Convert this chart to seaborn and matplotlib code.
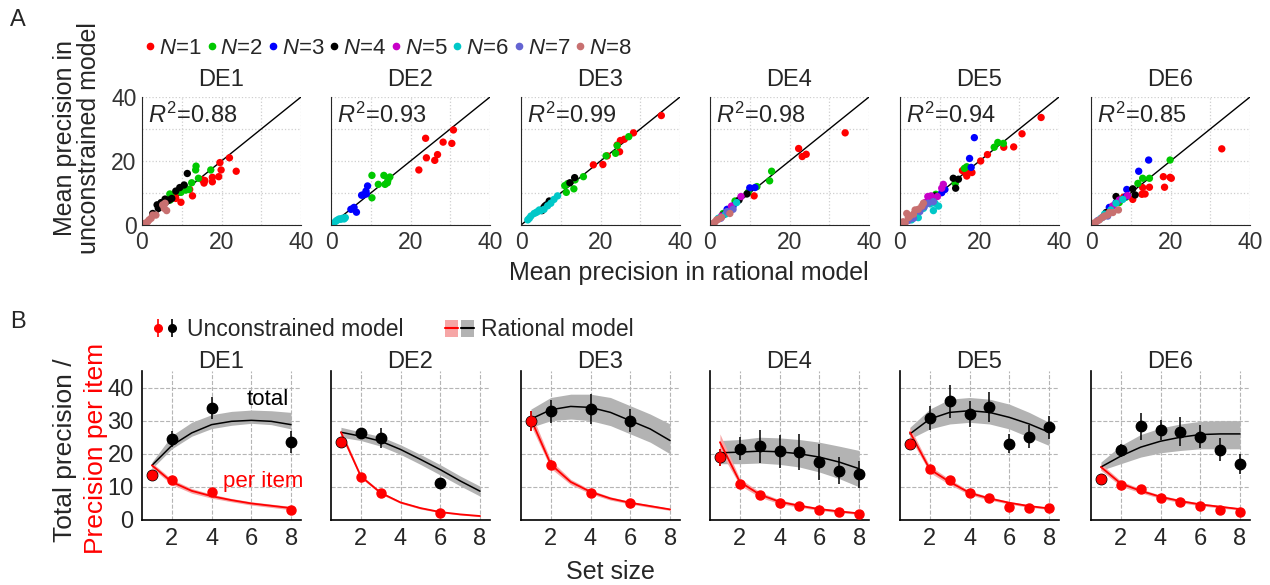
import numpy as np
import pandas as pd
import matplotlib
matplotlib.use("Agg")
import matplotlib.pyplot as plt
import seaborn as sns
from matplotlib.lines import Line2D
from matplotlib.patches import Patch
from matplotlib.legend_handler import HandlerTuple

# ---------------- data ----------------
experiments = ["DE1", "DE2", "DE3", "DE4", "DE5", "DE6"]
r2_values = [0.88, 0.93, 0.99, 0.98, 0.94, 0.85]

# panel A: (set size N, mean precision rational, mean precision unconstrained)
de1_pts = [(1, 22.0, 21.0), (1, 19.6, 19.5), (1, 19.9, 17.2), (1, 23.7, 16.8), (1, 19.3, 15.1),
           (1, 17.7, 14.9), (1, 17.7, 13.5), (1, 15.8, 13.9), (1, 15.2, 14.1), (1, 15.6, 13.1),
           (1, 12.0, 11.1), (1, 12.7, 9.1), (1, 9.8, 7.1), (1, 8.3, 9.1), (1, 8.5, 8.3),
           (2, 13.6, 18.4), (2, 13.5, 17.2), (2, 17.3, 17.2), (2, 14.2, 14.6), (2, 12.5, 13.2),
           (2, 11.8, 11.1), (2, 11.0, 10.9), (2, 9.8, 10.2), (2, 7.0, 9.7), (2, 7.1, 7.8),
           (2, 10.8, 11.8), (2, 7.3, 8.9),
           (4, 11.4, 16.1), (4, 10.6, 12.5), (4, 9.5, 11.7), (4, 8.5, 10.6), (4, 7.5, 8.3),
           (4, 6.8, 7.8), (4, 4.8, 7.0), (4, 4.1, 5.2), (4, 2.7, 3.6), (4, 3.8, 6.3), (4, 5.8, 8.1),
           (8, 5.8, 6.8), (8, 6.2, 4.5), (8, 5.2, 6.3), (8, 2.7, 3.1), (8, 2.3, 2.1), (8, 1.4, 1.0),
           (8, 0.6, 0.5), (8, 1.8, 1.6), (8, 3.5, 3.1), (8, 5.6, 5.2)]
de2_pts = [(1, 30.8, 29.7), (1, 30.4, 25.5), (1, 28.2, 25.9), (1, 23.8, 27.1), (1, 26.8, 22.0),
           (1, 24.0, 21.0), (1, 26.1, 20.2), (1, 22.1, 17.2),
           (2, 10.3, 15.5), (2, 13.3, 15.5), (2, 14.8, 15.0), (2, 14.3, 13.9), (2, 13.6, 12.7),
           (2, 11.9, 12.7), (2, 10.3, 8.5), (2, 14.2, 13.2),
           (3, 9.2, 12.2), (3, 8.8, 10.6), (3, 8.9, 9.7), (3, 8.1, 9.4), (3, 7.7, 9.3),
           (3, 5.8, 5.5), (3, 5.0, 4.9), (3, 6.4, 4.0), (3, 5.5, 5.1),
           (6, 1.3, 1.3), (6, 2.1, 1.9), (6, 2.9, 2.1), (6, 3.6, 2.3), (6, 1.7, 1.6),
           (6, 2.5, 1.8), (6, 3.3, 1.9), (6, 0.8, 0.7)]
de3_pts = [(1, 35.3, 34.2), (1, 28.3, 28.8), (1, 26.0, 26.8), (1, 25.0, 26.4), (1, 24.2, 25.0),
           (1, 24.8, 22.9), (1, 21.7, 21.6), (1, 20.6, 18.9), (1, 18.2, 18.8),
           (2, 27.1, 27.6), (2, 24.2, 24.8), (2, 23.8, 22.4), (2, 21.4, 21.6), (2, 15.7, 15.1),
           (2, 13.6, 14.1), (2, 11.7, 12.9), (2, 11.0, 12.3), (2, 13.3, 11.3), (2, 11.4, 10.2),
           (4, 13.5, 14.8), (4, 12.3, 13.2), (4, 7.1, 7.5), (4, 6.4, 6.3), (4, 5.7, 5.4),
           (4, 5.3, 4.5), (4, 6.0, 5.9),
           (6, 9.2, 9.1), (6, 8.3, 8.0), (6, 7.5, 6.8), (6, 6.7, 6.0), (6, 5.8, 4.9), (6, 5.0, 4.5),
           (6, 4.2, 4.2), (6, 3.3, 3.6), (6, 2.5, 2.8), (6, 2.1, 2.1), (6, 3.8, 3.9), (6, 4.6, 4.7),
           (6, 1.7, 1.6)]
de4_pts = [(1, 34.0, 28.8), (1, 22.3, 23.9), (1, 24.2, 22.1), (1, 23.2, 21.4), (1, 11.1, 9.1),
           (2, 15.5, 16.8), (2, 15.0, 13.8), (2, 11.8, 12.0), (2, 9.6, 10.2), (2, 6.3, 7.5), (2, 3.3, 3.6),
           (3, 10.0, 11.6), (3, 11.3, 11.7), (3, 4.3, 4.9), (3, 5.8, 5.9),
           (4, 9.3, 9.7), (4, 7.3, 7.8), (4, 3.3, 3.1),
           (5, 7.8, 8.9), (5, 5.4, 5.9), (5, 2.9, 2.8),
           (6, 6.7, 7.0), (6, 3.9, 3.4), (6, 2.1, 2.1),
           (7, 5.8, 4.9), (7, 4.3, 4.2), (7, 2.7, 2.1),
           (8, 5.0, 3.6), (8, 1.7, 1.6), (8, 0.8, 0.5), (8, 2.1, 1.8), (8, 1.3, 1.0), (8, 2.9, 2.4)]
de5_pts = [(1, 35.5, 33.6), (1, 30.7, 28.5), (1, 28.6, 24.4), (1, 26.1, 24.3), (1, 22.0, 22.0),
           (1, 20.3, 20.0), (1, 18.1, 16.4), (1, 16.6, 16.1), (1, 16.8, 15.3), (1, 17.4, 17.5),
           (1, 15.7, 17.0),
           (2, 24.6, 25.8), (2, 26.0, 25.5), (2, 23.7, 24.3), (2, 16.2, 17.7), (2, 16.8, 18.2),
           (2, 13.9, 13.0), (2, 9.0, 9.6),
           (3, 18.7, 27.3), (3, 17.5, 20.8), (3, 17.9, 18.0), (3, 11.3, 11.1), (3, 10.5, 10.1), (3, 7.6, 7.8),
           (4, 13.4, 14.6), (4, 14.7, 14.3), (4, 14.0, 11.5), (4, 8.8, 9.1), (4, 8.0, 8.3),
           (5, 10.9, 12.7), (5, 10.5, 11.5), (5, 9.4, 8.9), (5, 7.8, 9.1), (5, 7.3, 8.1),
           (5, 6.3, 7.0), (5, 7.0, 8.9),
           (6, 9.7, 5.9), (6, 8.4, 4.5), (6, 7.6, 6.6), (6, 5.9, 5.2), (6, 4.6, 2.3), (6, 3.8, 3.1),
           (6, 2.9, 1.6), (6, 8.8, 6.8),
           (7, 8.4, 7.3), (7, 7.1, 6.8), (7, 6.1, 5.7), (7, 5.0, 4.2), (7, 3.4, 2.1), (7, 2.1, 1.4),
           (8, 5.9, 6.8), (8, 4.6, 4.9), (8, 3.4, 3.4), (8, 2.5, 2.8), (8, 2.1, 2.3), (8, 1.7, 3.6),
           (8, 0.8, 1.0), (8, 1.3, 0.7), (8, 5.5, 5.9), (8, 3.8, 4.7)]
de6_pts = [(1, 32.9, 23.8), (1, 18.2, 15.1), (1, 19.9, 14.9), (1, 20.2, 14.6), (1, 18.5, 11.8),
           (1, 14.7, 11.8), (1, 13.0, 11.7), (1, 13.6, 9.7), (1, 12.8, 9.6), (1, 10.5, 8.0), (1, 8.2, 8.7),
           (2, 19.9, 20.3), (2, 14.7, 14.6), (2, 13.0, 14.6), (2, 11.8, 13.0), (2, 8.8, 8.7), (2, 7.1, 7.0),
           (3, 14.5, 20.3), (3, 12.0, 16.8), (3, 9.0, 11.1), (3, 8.8, 8.9), (3, 6.3, 7.0), (3, 4.6, 5.5),
           (4, 10.5, 11.3), (4, 11.1, 9.4), (4, 6.3, 8.9), (4, 3.8, 3.9),
           (5, 9.2, 9.2), (5, 7.1, 7.8), (5, 5.5, 6.0),
           (6, 8.0, 8.0), (6, 6.3, 6.8), (6, 5.0, 4.7), (6, 3.4, 3.4), (6, 2.5, 2.1),
           (7, 4.2, 2.8), (7, 2.9, 2.4), (7, 1.7, 1.4),
           (8, 6.9, 4.7), (8, 5.5, 3.9), (8, 4.2, 3.1), (8, 2.9, 2.4), (8, 2.1, 1.6), (8, 1.3, 1.0),
           (8, 0.4, 0.5), (8, 4.6, 3.9), (8, 3.4, 2.8)]
scatter_pts = [de1_pts, de2_pts, de3_pts, de4_pts, de5_pts, de6_pts]

# panel B: unconstrained model (mean +/- sem)
set_sizes = [[1, 2, 4, 8], [1, 2, 3, 6], [1, 2, 4, 6],
             [1, 2, 3, 4, 5, 6, 7, 8], [1, 2, 3, 4, 5, 6, 7, 8], [1, 2, 3, 4, 5, 6, 7, 8]]
unc_total = [[13.5, 24.4, 33.8, 23.5], [23.5, 26.2, 24.8, 11.2], [30.0, 32.8, 33.5, 30.0],
             [18.9, 21.5, 22.2, 20.7, 20.5, 17.5, 14.9, 13.8],
             [23.0, 30.8, 35.8, 32.0, 34.2, 23.1, 25.2, 28.0],
             [12.3, 21.0, 28.3, 27.3, 26.7, 25.2, 21.2, 17.0]]
unc_total_err = [[1.0, 2.5, 3.3, 3.3], [1.2, 1.5, 3.0, 1.0], [3.0, 3.5, 4.5, 3.5],
                 [2.5, 3.5, 5.0, 5.0, 5.5, 5.5, 4.0, 4.0],
                 [1.5, 3.5, 5.0, 4.0, 4.5, 3.0, 3.5, 3.5],
                 [1.0, 2.0, 4.0, 3.0, 4.5, 3.5, 3.5, 3.0]]
unc_item = [[13.5, 12.2, 8.5, 3.0], [23.5, 13.0, 8.3, 2.0], [30.0, 16.5, 8.3, 5.0],
            [18.9, 10.8, 7.6, 5.2, 4.2, 3.1, 2.4, 1.9],
            [23.0, 15.4, 12.0, 8.1, 6.7, 3.9, 3.6, 3.6],
            [12.3, 10.5, 9.4, 6.7, 5.4, 4.1, 3.1, 2.3]]
unc_item_err = [[1.0, 0.8, 0.8, 0.4], [1.2, 0.8, 0.8, 0.3], [3.0, 1.5, 0.8, 0.5],
                [2.5, 1.0, 0.8, 0.5, 0.4, 0.3, 0.3, 0.2],
                [1.5, 1.0, 0.8, 0.5, 0.5, 0.4, 0.3, 0.3],
                [1.0, 0.7, 0.6, 0.5, 0.4, 0.3, 0.3, 0.3]]

# panel B: rational model, evaluated at set sizes 1..8
model_sizes = [1, 2, 3, 4, 5, 6, 7, 8]
rat_total = [[16.5, 22.5, 26.3, 28.8, 29.8, 30.1, 29.8, 28.8],
             [26.5, 25.3, 23.8, 21.3, 18.3, 15.2, 11.8, 8.7],
             [30.5, 33.3, 34.3, 34.0, 32.5, 30.0, 27.5, 24.0],
             [20.3, 20.5, 20.8, 20.6, 20.0, 19.0, 17.5, 15.5],
             [26.0, 30.5, 32.5, 33.0, 32.5, 31.0, 29.0, 26.5],
             [16.0, 19.3, 22.0, 23.8, 25.0, 25.8, 26.0, 26.0]]
rat_total_lo = [[15.5, 21.5, 25.3, 27.6, 28.6, 29.2, 28.8, 27.5],
                [25.0, 24.0, 22.3, 19.8, 16.8, 13.6, 10.3, 7.2],
                [28.0, 30.0, 30.5, 30.0, 28.5, 26.0, 23.5, 20.0],
                [17.0, 17.0, 17.2, 16.8, 16.0, 14.5, 12.5, 10.0],
                [24.5, 27.5, 29.0, 29.5, 29.0, 27.5, 25.0, 22.5],
                [15.0, 17.0, 19.0, 20.3, 21.0, 21.5, 21.5, 21.5]]
rat_total_hi = [[17.5, 25.5, 29.5, 31.8, 32.8, 33.2, 33.0, 32.5],
                [28.0, 26.6, 25.2, 22.7, 19.8, 16.7, 13.3, 10.2],
                [33.5, 37.0, 38.0, 38.0, 37.0, 34.5, 32.0, 29.0],
                [24.0, 24.3, 25.0, 24.8, 24.3, 23.5, 22.3, 21.0],
                [28.0, 33.5, 36.5, 37.0, 36.5, 35.0, 32.5, 29.5],
                [17.5, 22.5, 25.8, 27.8, 29.0, 29.8, 30.0, 30.0]]
rat_item = [[16.5, 11.5, 8.8, 7.2, 6.0, 5.0, 4.3, 3.6],
            [26.5, 13.2, 8.2, 5.3, 3.6, 2.4, 1.7, 1.2],
            [30.5, 16.8, 11.5, 8.5, 6.5, 5.2, 4.2, 3.2],
            [23.5, 11.5, 7.7, 5.5, 4.3, 3.3, 2.6, 2.0],
            [26.5, 15.3, 11.5, 8.2, 6.5, 5.2, 4.2, 3.5],
            [16.0, 11.0, 8.8, 7.0, 5.7, 4.7, 4.0, 3.3]]
rat_item_hw = [[0.8, 0.8, 0.7, 0.6, 0.5, 0.5, 0.5, 0.5],
               [1.0, 0.5, 0.4, 0.3, 0.3, 0.2, 0.2, 0.2],
               [2.0, 1.2, 0.8, 0.6, 0.5, 0.4, 0.4, 0.3],
               [2.5, 1.0, 0.8, 0.6, 0.5, 0.4, 0.4, 0.3],
               [1.5, 1.0, 0.8, 0.6, 0.5, 0.4, 0.4, 0.3],
               [1.0, 0.8, 0.6, 0.5, 0.5, 0.4, 0.4, 0.3]]

n_colors = {1: "#ff0000", 2: "#00c800", 3: "#0000ff", 4: "#000000",
            5: "#c800c8", 6: "#00c8c8", 7: "#6464d2", 8: "#c87070"}

# ---------------- style ----------------
sns.set_style("white")
plt.rcParams["font.family"] = ["Liberation Sans", "DejaVu Sans"]
plt.rcParams["mathtext.fontset"] = "custom"
plt.rcParams["mathtext.rm"] = "Liberation Sans"
plt.rcParams["mathtext.it"] = "Liberation Sans:italic"

W, H = 1270, 585
fig = plt.figure(figsize=(12.7, 5.85), dpi=100)
lefts = [142, 331, 521, 710, 900, 1091]
aw = 159

# ---------------- panel A ----------------
for i, exp in enumerate(experiments):
    ax = fig.add_axes([lefts[i] / W, 1 - 225 / H, aw / W, 128 / H])
    df = pd.DataFrame(scatter_pts[i], columns=["N", "rational", "unconstrained"])
    ax.plot([0, 40], [0, 40], color="k", lw=1, zorder=1)
    sns.scatterplot(data=df, x="rational", y="unconstrained", hue="N", palette=n_colors,
                    s=28, linewidth=0, legend=False, ax=ax, zorder=2)
    ax.set_xlim(0, 40)
    ax.set_ylim(0, 40)
    ax.set_xticks([0, 10, 20, 30, 40])
    ax.set_yticks([0, 10, 20, 30, 40])
    ax.set_xticklabels(["0", "", "20", "", "40"])
    if i == 0:
        ax.set_yticklabels(["0", "", "20", "", "40"])
    else:
        ax.set_yticklabels([])
    ax.grid(True, color="#cfcfcf", linestyle=":", linewidth=0.9)
    ax.spines["top"].set_visible(False)
    ax.spines["right"].set_visible(False)
    ax.tick_params(length=2, direction="in", labelsize=16.5, pad=4, colors="#333333")
    ax.set_xlabel("")
    ax.set_ylabel("")
    ax.set_title(exp, fontsize=17, pad=8)
    ax.text(0.04, 0.86, f"$R^2$={r2_values[i]:.2f}", transform=ax.transAxes,
            fontsize=17, ha="left", va="center")

# ---------------- panel B ----------------
for i, exp in enumerate(experiments):
    ax = fig.add_axes([lefts[i] / W, 1 - 520 / H, aw / W, 149 / H])
    lo_i = np.array(rat_item[i]) - np.array(rat_item_hw[i])
    hi_i = np.array(rat_item[i]) + np.array(rat_item_hw[i])
    ax.fill_between(model_sizes, rat_total_lo[i], rat_total_hi[i], color="#b3b3b3", lw=0, zorder=1)
    ax.fill_between(model_sizes, lo_i, hi_i, color="#f6a6a6", lw=0, zorder=1)
    sns.lineplot(x=model_sizes, y=rat_total[i], color="k", lw=1.1, ax=ax, zorder=2)
    sns.lineplot(x=model_sizes, y=rat_item[i], color="#ff0000", lw=1.3, ax=ax, zorder=2)
    ax.errorbar(set_sizes[i], unc_total[i], yerr=unc_total_err[i], fmt="o", color="k",
                ms=7.5, elinewidth=1.1, capsize=0, zorder=3)
    ax.errorbar(set_sizes[i], unc_item[i], yerr=unc_item_err[i], fmt="o", color="#ff0000",
                ms=6.5, elinewidth=1.1, capsize=0, zorder=4)
    ax.set_xlim(0.5, 8.5)
    ax.set_ylim(0, 45)
    ax.set_xticks([2, 4, 6, 8])
    ax.set_yticks([0, 10, 20, 30, 40])
    if i > 0:
        ax.set_yticklabels([])
    ax.grid(True, color="#b5b5b5", linestyle="--", linewidth=0.8)
    ax.spines["top"].set_visible(False)
    ax.spines["right"].set_visible(False)
    for s in ["left", "bottom"]:
        ax.spines[s].set_color("k")
        ax.spines[s].set_linewidth(1.2)
    ax.tick_params(length=0, labelsize=17, pad=6)
    ax.set_title(exp, fontsize=17, pad=2)
    if i == 0:
        ax.text(7.9, 36.3, "total", fontsize=16, ha="right", va="center", color="k")
        ax.text(8.6, 11.7, "per item", fontsize=16, ha="right", va="center", color="#ff0000")

# ---------------- legends & labels ----------------
n_handles = [Line2D([], [], marker="o", linestyle="none", color=n_colors[n], markersize=4.5)
             for n in range(1, 9)]
n_labels = [f"$N$={n}" for n in range(1, 9)]
fig.legend(n_handles, n_labels, loc="center", bbox_to_anchor=(388 / W, 1 - 48 / H), ncol=8,
           frameon=False, handlelength=0.5, handletextpad=0.15, columnspacing=0.2, fontsize=16,
           borderaxespad=0, borderpad=0)

unc_h = ((Line2D([], [], color="#ff0000", marker="|", markersize=13, mew=1.2, linestyle="none"),
          Line2D([], [], color="#ff0000", marker="o", markersize=5.5, linestyle="none")),
         (Line2D([], [], color="k", marker="|", markersize=13, mew=1.2, linestyle="none"),
          Line2D([], [], color="k", marker="o", markersize=5.5, linestyle="none")))
rat_h = ((Patch(facecolor="#f6a6a6", edgecolor="none"), Line2D([], [], color="#ff0000", lw=1.5)),
         (Patch(facecolor="#b3b3b3", edgecolor="none"), Line2D([], [], color="k", lw=1.5)))
fig.legend([unc_h, rat_h], ["Unconstrained model", "Rational model"],
           handler_map={unc_h: HandlerTuple(ndivide=None, pad=0.0),
                        rat_h: HandlerTuple(ndivide=None, pad=0.1)},
           loc="center", bbox_to_anchor=(392 / W, 1 - 330 / H), ncol=2, frameon=False,
           fontsize=16.5, handlelength=1.3, columnspacing=1.8, handletextpad=0.3,
           borderaxespad=0, borderpad=0)

fig.text(18 / W, 1 - 20 / H, "A", fontsize=17, ha="center", va="center")
fig.text(18 / W, 1 - 322 / H, "B", fontsize=17, ha="center", va="center")
fig.text(689 / W, 1 - 273 / H, "Mean precision in rational model", fontsize=18,
         ha="center", va="center")
fig.text(77 / W, 1 - 138 / H, "Mean precision in\nunconstrained model", fontsize=18,
         rotation=90, ha="center", va="center", linespacing=1.05)
fig.text(610 / W, 1 - 572 / H, "Set size", fontsize=18, ha="center", va="center")
fig.text(65 / W, 1 - 450 / H, "Total precision /", fontsize=19, rotation=90,
         ha="center", va="center")
fig.text(96 / W, 1 - 448 / H, "Precision per item", fontsize=19, rotation=90,
         ha="center", va="center", color="#ff0000")

fig.savefig("out.png", dpi=100)
